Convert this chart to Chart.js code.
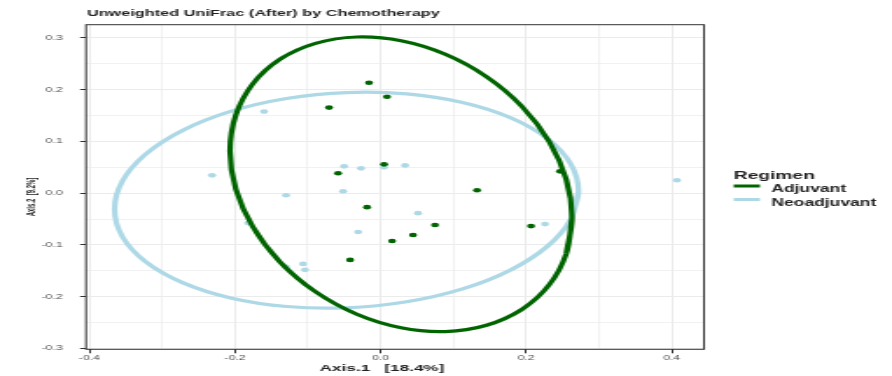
<!DOCTYPE html>
<html><head><meta charset="utf-8">
<script src="https://cdn.jsdelivr.net/npm/chart.js@4/dist/chart.umd.min.js"></script>
<style>
html,body{margin:0;padding:0;background:#fff;overflow:hidden;}
</style></head><body>
<canvas id="c" width="510" height="376" style="display:block;width:892px;height:376px;"></canvas>
<script>
// ---- texts ----
const chartTitle = 'Unweighted UniFrac (After) by Chemotherapy';
const xAxisTitle = 'Axis.1   [18.4%]';
const yAxisTitle = 'Axis.2  [9.2%]';
const legendTitle = 'Regimen';
const groupNames = ['Adjuvant', 'Neoadjuvant'];
const groupColors = ['#006400', '#ADD8E6'];

// ---- ticks ----
const xTickValues = [-0.4, -0.3, -0.2, -0.1, 0.0, 0.1, 0.2, 0.3, 0.4];
const xTickLabels = ['-0.4', '', '-0.2', '', '0.0', '', '0.2', '', '0.4'];
const yTickValues = [-0.3, -0.25, -0.2, -0.15, -0.1, -0.05, 0.0, 0.05, 0.1, 0.15, 0.2, 0.25, 0.3];
const yTickLabels = ['-0.3', '', '-0.2', '', '-0.1', '', '0.0', '', '0.1', '', '0.2', '', '0.3'];
const xRange = [-0.4046, 0.4444];
const yRange = [-0.3015, 0.3256];

// ---- points (Axis.1, Axis.2) ----
const adjuvantX = [-0.0158, 0.0089, -0.0708, 0.0048, -0.0584, -0.0185, 0.0158, 0.0446, 0.0749, -0.0419, 0.1326, 0.2068, 0.2466];
const adjuvantY = [0.2135, 0.1865, 0.1654, 0.0558, 0.0385, -0.0269, -0.0923, -0.0808, -0.0615, -0.1288, 0.0058, -0.0635, 0.0423];
const neoadjuvantX = [-0.1600, -0.2315, -0.0501, -0.0268, 0.0048, 0.0337, -0.1298, -0.0515, 0.0515, -0.1820, -0.0309, -0.1065, -0.1037, -0.1298, 0.2260, 0.4073];
const neoadjuvantY = [0.1577, 0.0346, 0.0519, 0.0481, 0.0500, 0.0538, -0.0038, 0.0038, -0.0385, -0.0577, -0.0750, -0.1365, -0.1480, -0.1423, -0.0596, 0.0250];

// ---- ellipse outlines (first two points repeated to close the loop) ----
const adjEllipseX = [0.2631, 0.2551, 0.2316, 0.1943, 0.1456, 0.0890, 0.0282, -0.0326, -0.0893, -0.1380, -0.1753, -0.1988, -0.2068, -0.1988, -0.1753, -0.1380, -0.0893, -0.0326, 0.0282, 0.0890, 0.1456, 0.1943, 0.2316, 0.2551, 0.2631, 0.2551];
const adjEllipseY = [-0.0472, -0.1168, -0.1772, -0.2243, -0.2550, -0.2672, -0.2599, -0.2338, -0.1905, -0.1331, -0.0654, 0.0079, 0.0818, 0.1514, 0.2118, 0.2590, 0.2896, 0.3018, 0.2945, 0.2684, 0.2251, 0.1677, 0.1000, 0.0268, -0.0472, -0.1168];
const neoEllipseX = [0.2720, 0.2611, 0.2293, 0.1787, 0.1127, 0.0358, -0.0467, -0.1292, -0.2061, -0.2721, -0.3227, -0.3546, -0.3654, -0.3546, -0.3227, -0.2721, -0.2061, -0.1292, -0.0467, 0.0358, 0.1127, 0.1787, 0.2293, 0.2611, 0.2720, 0.2611];
const neoEllipseY = [0.0039, -0.0506, -0.1024, -0.1482, -0.1849, -0.2098, -0.2214, -0.2188, -0.2022, -0.1727, -0.1324, -0.0840, -0.0308, 0.0236, 0.0755, 0.1213, 0.1580, 0.1829, 0.1945, 0.1919, 0.1753, 0.1458, 0.1055, 0.0571, 0.0039, -0.0506];

const zip = (xs, ys) => xs.map((x, i) => ({ x: x, y: ys[i] }));

const decorPlugin = {
  id: 'decor',
  afterDraw(chart) {
    const ctx = chart.ctx, a = chart.chartArea;
    ctx.save();
    // panel border
    ctx.strokeStyle = '#333333';
    ctx.lineWidth = 1;
    ctx.strokeRect(a.left, a.top, a.right - a.left, a.bottom - a.top);
    // title
    ctx.fillStyle = '#222222';
    ctx.textAlign = 'left';
    ctx.textBaseline = 'alphabetic';
    ctx.font = 'bold 9.5px "Liberation Sans", Arial, sans-serif';
    ctx.save();
    ctx.translate(a.left + 0.5, 16);
    ctx.scale(0.98, 1);
    ctx.fillText(chartTitle, 0, 0);
    ctx.restore();
    // x axis title
    ctx.textAlign = 'center';
    ctx.font = 'bold 9.8px "Liberation Sans", Arial, sans-serif';
    ctx.fillText(xAxisTitle, 218.4, 371);
    // y axis title
    ctx.save();
    ctx.translate(20, 197);
    ctx.rotate(-Math.PI / 2);
    ctx.scale(0.8, 1);
    ctx.font = 'bold 7.5px "Liberation Sans", Arial, sans-serif';
    ctx.fillText(yAxisTitle, 0, 0);
    ctx.restore();
    // legend
    ctx.textAlign = 'left';
    ctx.font = 'bold 11px "Liberation Sans", Arial, sans-serif';
    ctx.fillText(legendTitle, 419.5, 179);
    const keyY = [186, 199.5];
    const textY = [192, 205.5];
    ctx.font = 'bold 10px "Liberation Sans", Arial, sans-serif';
    for (let i = 0; i < groupNames.length; i++) {
      ctx.strokeStyle = groupColors[i];
      ctx.lineWidth = 3;
      ctx.beginPath();
      ctx.moveTo(419.5, keyY[i]);
      ctx.lineTo(434.5, keyY[i]);
      ctx.stroke();
      ctx.fillStyle = '#222222';
      ctx.fillText(groupNames[i], 441, textY[i]);
    }
    ctx.restore();
  }
};

const isMajor = (labels) => (c) => (c.tick && labels[c.index] !== '' ? '#333333' : 'rgba(0,0,0,0)');

new Chart(document.getElementById('c'), {
  type: 'scatter',
  data: {
    datasets: [
      { label: groupNames[0] + ' ellipse', data: zip(adjEllipseX, adjEllipseY), showLine: true, borderColor: groupColors[0], borderWidth: 3.2, pointRadius: 0, tension: 0.35, fill: false, order: 0 },
      { label: groupNames[1] + ' ellipse', data: zip(neoEllipseX, neoEllipseY), showLine: true, borderColor: groupColors[1], borderWidth: 3.2, pointRadius: 0, tension: 0.35, fill: false, order: 1 },
      { label: groupNames[0], data: zip(adjuvantX, adjuvantY), showLine: false, backgroundColor: groupColors[0], pointRadius: 2.3, pointBorderWidth: 0, order: 2 },
      { label: groupNames[1], data: zip(neoadjuvantX, neoadjuvantY), showLine: false, backgroundColor: groupColors[1], pointRadius: 2.3, pointBorderWidth: 0, order: 3 }
    ]
  },
  options: {
    responsive: false,
    animation: false,
    devicePixelRatio: 1,
    layout: { padding: { left: 0, top: 24.7, right: 107.5, bottom: 0 } },
    plugins: { legend: { display: false }, tooltip: { enabled: false }, title: { display: false } },
    scales: {
      x: {
        type: 'linear', min: xRange[0], max: xRange[1],
        afterFit(s) { s.height = 26.7; },
        afterBuildTicks(s) { s.ticks = xTickValues.map(v => ({ value: v })); },
        ticks: { autoSkip: false, maxRotation: 0, padding: 1, color: '#4D4D4D', font: { family: '"Liberation Sans", Arial, sans-serif', size: 7 }, callback: (v, i) => xTickLabels[i] },
        grid: { color: '#EBEBEB', lineWidth: (c) => (xTickLabels[c.index] !== '' ? 1 : 0.7), tickLength: 4, tickColor: isMajor(xTickLabels), tickWidth: 1 },
        border: { display: false }
      },
      y: {
        type: 'linear', min: yRange[0], max: yRange[1],
        afterFit(s) { s.width = 49.2; },
        afterBuildTicks(s) { s.ticks = yTickValues.map(v => ({ value: v })); },
        ticks: { autoSkip: false, padding: 10, color: '#4D4D4D', font: { family: '"Liberation Sans", Arial, sans-serif', size: 7 }, callback: (v, i) => yTickLabels[i] },
        grid: { color: '#EBEBEB', lineWidth: (c) => (yTickLabels[c.index] !== '' ? 1 : 0.7), tickLength: 3.4, tickColor: isMajor(yTickLabels), tickWidth: 1 },
        border: { display: false }
      }
    }
  },
  plugins: [decorPlugin]
});
</script>
</body></html>
